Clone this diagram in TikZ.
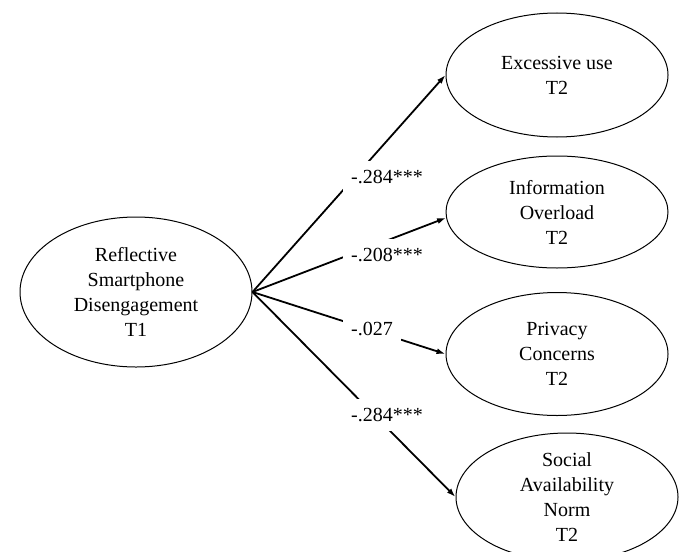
\documentclass[tikz,border=0pt]{standalone}
\usepackage{fontspec}
\setmainfont{Liberation Serif}
\usetikzlibrary{shapes.geometric,arrows.meta}
\begin{document}
\begin{tikzpicture}[x=1pt,y=-1pt,
  lat/.style={ellipse,draw,line width=1pt,inner sep=0pt,align=center,font=\fontsize{20}{25}\selectfont},
  pathline/.style={line width=1.8pt,-{Latex[length=9pt,width=6pt]}},
  coef/.style={fill=white,inner xsep=8pt,inner ysep=9pt,font=\fontsize{20}{25}\selectfont}]
\useasboundingbox (0,0) rectangle (684,551);
\clip (0,0) rectangle (684,551);
\node[lat,minimum width=232pt,minimum height=150pt] (rsd) at (136,292) {Reflective\\Smartphone\\Disengagement\\T1};
\node[lat,minimum width=222pt,minimum height=124pt] (eu) at (557,75) {Excessive use\\T2};
\node[lat,minimum width=222pt,minimum height=112pt] (io) at (557,212) {Information\\Overload\\T2};
\node[lat,minimum width=222pt,minimum height=123pt] (pc) at (557,354) {Privacy\\Concerns\\T2};
\node[lat,minimum width=222pt,minimum height=128pt] (san) at (567,497) {Social\\Availability\\Norm\\T2};
\draw[pathline] (rsd.east) -- (eu.west);
\draw[pathline] (rsd.east) -- (io.183);
\draw[pathline] (rsd.east) -- (pc.west);
\draw[pathline] (rsd.east) -- (san.west);
\node[coef] (c1) at (387,177) {-.284***};
\node[coef] (c2) at (387,255) {-.208***};
\node[coef] (c3) at (372,329) {-.027};
\node[coef] (c4) at (387,415) {-.284***};
\end{tikzpicture}
\end{document}
